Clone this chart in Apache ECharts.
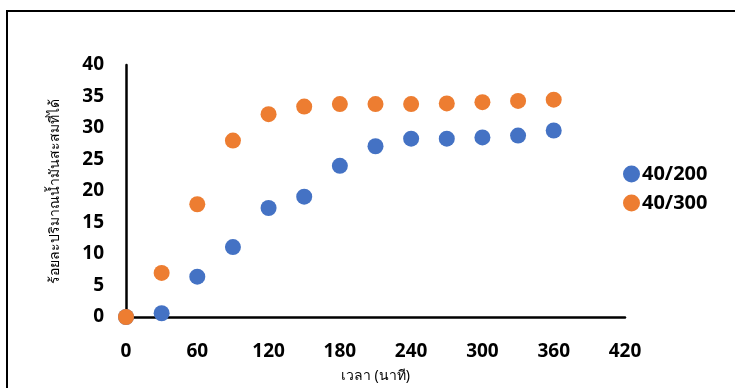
<!DOCTYPE html>
<html><head><meta charset="utf-8">
<script src="https://cdn.jsdelivr.net/npm/echarts@6/dist/echarts.min.js"></script>
<style>html,body{margin:0;padding:0;background:#fff}#c{width:735px;height:388px}</style>
</head><body><div id="c"></div>
<script>
const times = [0, 30, 60, 90, 120, 150, 180, 210, 240, 270, 300, 330, 360];
const s200 = [0, 0.6, 6.4, 11.1, 17.3, 19.1, 24.0, 27.1, 28.3, 28.3, 28.5, 28.8, 29.6];
const s300 = [0, 7.0, 17.9, 28.0, 32.2, 33.4, 33.8, 33.8, 33.8, 33.9, 34.1, 34.3, 34.5];
const seriesNames = ['40/200', '40/300'];
const xTitle = 'เวลา (นาที)';
const yTitle = 'ร้อยละปริมาณน้ำมันสะสมที่ได้';

const chart = echarts.init(document.getElementById('c'));
const tickFont = {fontFamily: 'Open Sans, Liberation Sans, sans-serif', fontWeight: 'bold', fontSize: 19, color: '#000'};
const thaiFont = 'Noto Sans, DejaVu Sans, sans-serif';
chart.setOption({
  animation: false,
  graphic: [{type: 'rect', shape: {x: 7, y: 11, width: 740, height: 400}, style: {fill: 'none', stroke: '#000', lineWidth: 2}, silent: true}],
  grid: {left: 126, right: 110, top: 65, bottom: 67},
  legend: {
    orient: 'vertical', left: 618, top: 159, itemWidth: 17, itemHeight: 17, itemGap: 9,
    icon: 'circle',
    textStyle: Object.assign({}, tickFont, {fontSize: 20, padding: [0, 0, 0, -3]}),
    data: seriesNames
  },
  xAxis: {
    type: 'value', min: 0, max: 420, interval: 60,
    axisLine: {show: true, onZero: false, lineStyle: {color: '#000', width: 2.5}},
    axisTick: {show: false}, splitLine: {show: false},
    axisLabel: Object.assign({}, tickFont, {margin: 25}),
    name: xTitle, nameLocation: 'middle', nameGap: 52,
    nameTextStyle: {fontFamily: thaiFont, fontSize: 14, color: '#000'}
  },
  yAxis: {
    type: 'value', min: 0, max: 40, interval: 5,
    axisLine: {show: true, lineStyle: {color: '#000', width: 2.5}},
    axisTick: {show: false}, splitLine: {show: false},
    axisLabel: Object.assign({}, tickFont, {margin: 22}),
    name: yTitle, nameLocation: 'middle', nameGap: 64, nameRotate: 90,
    nameTextStyle: {fontFamily: thaiFont, fontSize: 14, color: '#000'}
  },
  series: [
    {name: seriesNames[0], type: 'scatter', symbolSize: 16, itemStyle: {color: '#4472C4', opacity: 1},
     data: times.map((t, i) => [t, s200[i]]), z: 2},
    {name: seriesNames[1], type: 'scatter', symbolSize: 16, itemStyle: {color: '#ED7D31', opacity: 1},
     data: times.map((t, i) => [t, s300[i]]), z: 3}
  ]
});
</script></body></html>
